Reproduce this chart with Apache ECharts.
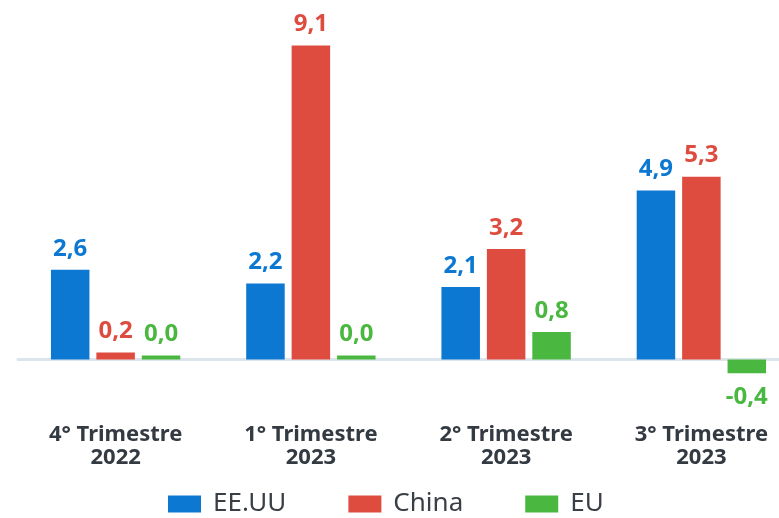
<!DOCTYPE html>
<html><head><meta charset="utf-8">
<script src="https://cdn.jsdelivr.net/npm/echarts@6/dist/echarts.min.js"></script>
<style>html,body{margin:0;padding:0;background:#fff;overflow:hidden;width:779px;height:518px}#c{width:799px;height:518px}</style>
</head><body><div id="c"></div>
<script>
const categories = ["4° Trimestre\n2022", "1° Trimestre\n2023", "2° Trimestre\n2023", "3° Trimestre\n2023"];
const seriesNames = ["EE.UU", "China", "EU"];
const usValues = [2.6, 2.2, 2.1, 4.9];
const chinaValues = [0.2, 9.1, 3.2, 5.3];
const euValues = [0.0, 0.0, 0.8, -0.4];
const colors = ["#0C78D2", "#DE4C40", "#4AB840"];

const fontFam = '"Noto Sans", "Open Sans", sans-serif';
function fmt(v){ return v.toFixed(1).replace('.', ','); }
function mk(name, vals, color){
  return {
    name: name, type: 'bar', barWidth: 38.5, barGap: '18%', barMinHeight: 4,
    itemStyle: {color: color},
    data: vals.map(v => ({
      value: v,
      label: v < 0 ? {position: 'bottom', distance: 12} : {position: 'top'}
    })),
    label: {
      show: true, distance: 9, color: color, fontSize: 24, fontWeight: 'bold', fontFamily: fontFam,
      formatter: p => fmt(p.value)
    }
  };
}
const chart = echarts.init(document.getElementById('c'));
chart.setOption({
  animation: false,
  grid: {left: 18, right: 0, top: 31.75, bottom: 106.75, containLabel: false},
  legend: {
    top: 491, left: 168, padding: 0, itemWidth: 33, itemHeight: 17, itemGap: 62,
    icon: 'rect',
    textStyle: {fontSize: 26, lineHeight: 26, color: '#3a3f46', fontFamily: fontFam, padding: [0, 0, 0, 7]},
    data: seriesNames
  },
  xAxis: {
    type: 'category', data: categories,
    axisLine: {show: true, onZero: true, lineStyle: {color: '#dde5ec', width: 3}},
    axisTick: {show: false},
    axisLabel: {margin: 12, fontSize: 22, fontWeight: 'bold', color: '#333a42', lineHeight: 23, fontFamily: fontFam}
  },
  yAxis: {
    type: 'value', min: -1.5, max: 9.5,
    show: false, splitLine: {show: false}
  },
  series: [
    mk(seriesNames[0], usValues, colors[0]),
    mk(seriesNames[1], chinaValues, colors[1]),
    mk(seriesNames[2], euValues, colors[2])
  ]
});
</script></body></html>
